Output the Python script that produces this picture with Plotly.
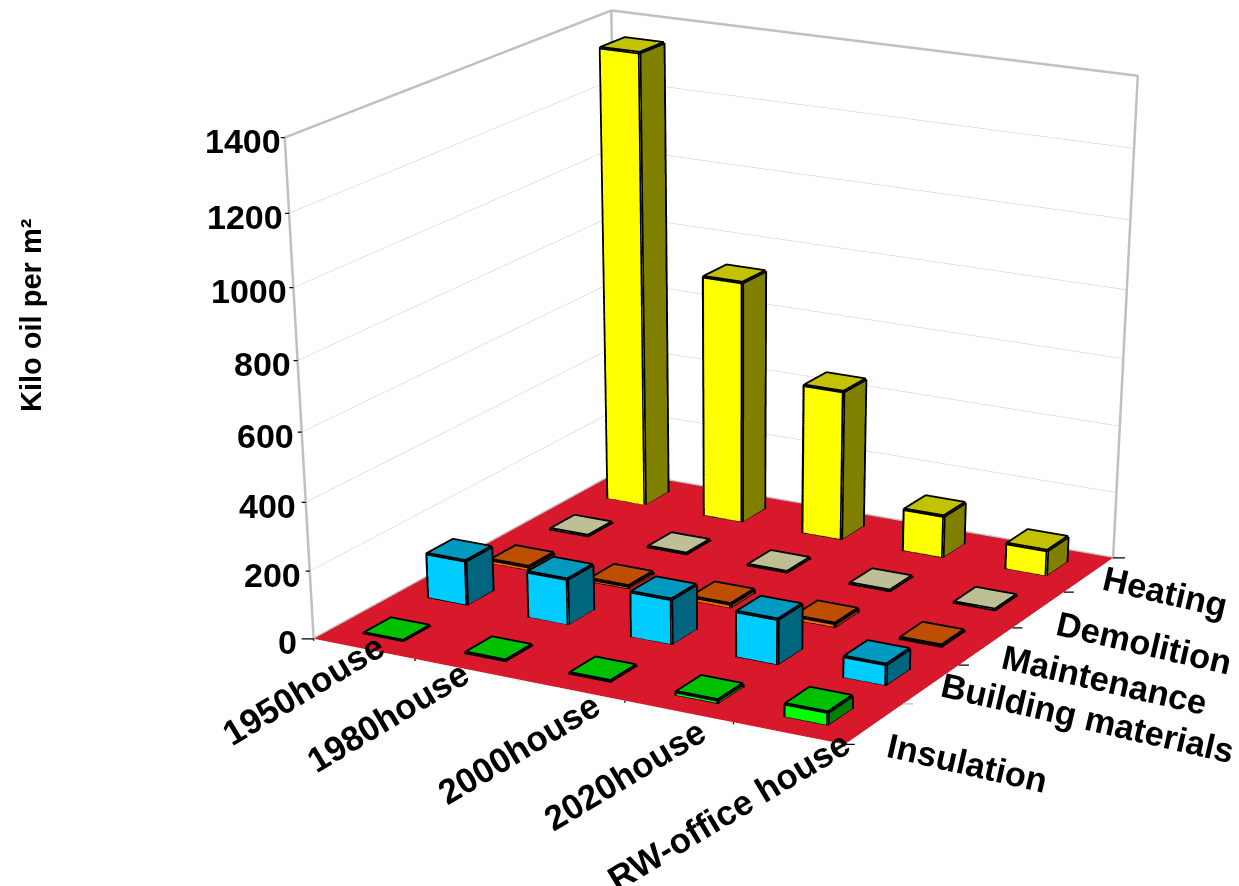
import plotly.graph_objects as go

categories = ["1950house", "1980house", "2000house", "2020house", "RW-office house"]
series = ["Insulation", "Building materials", "Maintenance", "Demolition", "Heating"]
insulation = [3, 5, 5, 11, 38]
building_materials = [134, 136, 134, 134, 62]
maintenance = [12, 10, 13, 13, 7]
demolition = [5, 5, 5, 5, 5]
heating = [1352, 730, 453, 128, 78]
z_ticks = [0, 200, 400, 600, 800, 1000, 1200, 1400]
values = [insulation, building_materials, maintenance, demolition, heating]

# The canvas is larger than the visible page: plotly's field of view is fixed,
# so a tall scene gives the long-lens perspective this chart needs.
WIDTH, HEIGHT = 1470, 3500
EYE = dict(x=2.82630, y=-5.11498, z=1.68245)
CENTER = dict(x=0.52559, y=-0.92189, z=-1.57743)
UP = dict(x=-0.00674, y=0.00155, z=1)
ASPECT = dict(x=0.82536, y=0.83867, z=0.66355)

BAR_X, BAR_Y = 0.385, 0.41
FLOOR = "#d7192b"
WALL = "#c0c0c0"
GRID = "#c8c8c8"
# front, top and side face of each series' bars
FACES = [("#00ff00", "#00c000", "#008000"), ("#00ccff", "#0099c0", "#006680"),
         ("#ff6a00", "#bf4f00", "#803500"), ("#ffffc8", "#bfbf96", "#808064"),
         ("#ffff00", "#c2c200", "#808000")]
FLAT = dict(ambient=1, diffuse=0, specular=0, fresnel=0, roughness=1)

fig = go.Figure()
fig.add_trace(go.Mesh3d(x=[0, 5, 5, 0], y=[0, 0, 5, 5], z=[0, 0, 0, 0], i=[0, 0], j=[1, 2], k=[2, 3],
                        color=FLOOR, lighting=FLAT, flatshading=True, hoverinfo="skip"))

for s, row in enumerate(values):
    front, top, side = FACES[s]
    vx, vy, vz, fi, fj, fk, fc = [], [], [], [], [], [], []
    ex, ey, ez = [], [], []
    for c, v in enumerate(row):
        x0, x1 = c + .5 - BAR_X / 2, c + .5 + BAR_X / 2
        y0, y1 = s + .5 - BAR_Y / 2, s + .5 + BAR_Y / 2
        n = len(vx)
        vx += [x0, x1, x1, x0, x0, x1, x1, x0]
        vy += [y0, y0, y1, y1, y0, y0, y1, y1]
        vz += [0, 0, 0, 0, v, v, v, v]
        for tri, col in [((0, 1, 5), front), ((0, 5, 4), front), ((1, 2, 6), side),
                         ((1, 6, 5), side), ((4, 5, 6), top), ((4, 6, 7), top)]:
            fi.append(n + tri[0]); fj.append(n + tri[1]); fk.append(n + tri[2]); fc.append(col)
        # outline of the visible edges, base edges raised a hair above the floor
        base = 1.0
        outline = [(x0, y0, v), (x1, y0, v), (x1, y1, v), (x0, y1, v), (x0, y0, v), (x0, y0, base),
                   (x1, y0, base), (x1, y1, base), (x1, y1, v)]
        for path in (outline, [(x1, y0, base), (x1, y0, v)]):
            for q in path:
                ex.append(q[0]); ey.append(q[1]); ez.append(q[2])
            ex.append(None); ey.append(None); ez.append(None)
    fig.add_trace(go.Mesh3d(x=vx, y=vy, z=vz, i=fi, j=fj, k=fk, facecolor=fc, lighting=FLAT,
                            flatshading=True, hoverinfo="skip"))
    fig.add_trace(go.Scatter3d(x=ex, y=ey, z=ez, mode="lines", line=dict(color="black", width=7),
                               hoverinfo="skip"))

zmax = z_ticks[-1]
wall_line = dict(mode="lines", line=dict(color=WALL, width=5), hoverinfo="skip")
fig.add_trace(go.Scatter3d(x=[0, 0, 0, 5, 5, 5, 0], y=[0, 0, 5, 5, 5, 5, 5], z=[0, zmax, zmax, zmax, 0, 0, 0], **wall_line))
fig.add_trace(go.Scatter3d(x=[0, 0], y=[5, 5], z=[0, zmax], **wall_line))
fig.add_trace(go.Scatter3d(x=[0, 0], y=[0, 5], z=[0, 0], **wall_line))

ann = []


def label(text, x, y, z, dx, dy, angle=0, size=34.5):
    ann.append(dict(x=x, y=y, z=z, text="<b>%s</b>" % text, showarrow=False, xshift=dx, yshift=-dy,
                    textangle=angle, xanchor="center", yanchor="middle",
                    font=dict(family="Liberation Sans", size=size, color="black")))


def tick(x, y, z, ax, ay, color="black"):
    ann.append(dict(x=x, y=y, z=z, text=" ", showarrow=True, arrowhead=0, arrowwidth=1.3,
                    arrowcolor=color, ax=ax, ay=ay, standoff=0))


# label gap from the wall, per z tick
z_gap = [17, 9, 10, 8, 7, 7, 6, 4]
for v, gap in zip(z_ticks, z_gap):
    label(str(v), 0, 0, v, -gap - 9.45 * len(str(v)), 3.5, size=34)
    tick(0, 0, v, -7 if v else -15, 0)
tick(0, 0, 0, 0, 12)

cat_shift = [(-61, 41), (-79, 47), (-53, 58), (-54, 63), (-60, 77)]
for c, name in enumerate(categories):
    label(name, c + .5, 0, 0, cat_shift[c][0], cat_shift[c][1], -31, size=35)
    tick(c + 1, 0, 0, 0, 12, WALL if c == 1 else "black")

ser_shift = [(93, 39), (156, 34), (119, 34), (106, 33), (77, 17)]
for s, name in enumerate(series):
    label(name, 5, s + .5, 0, ser_shift[s][0], ser_shift[s][1], 13)
    tick(5, s, 0, 13, 0, WALL if s == 1 else "black")
tick(5, 5, 0, 15, 0)

bare = dict(title=dict(text=""), showticklabels=False, ticks="", showgrid=False, zeroline=False,
            showline=False, showbackground=False, showspikes=False)
fig.update_layout(
    width=WIDTH, height=HEIGHT, margin=dict(l=0, r=0, t=0, b=0), showlegend=False, paper_bgcolor="white",
    annotations=[dict(text="<b>Kilo oil per m²</b>", textangle=-90, x=31 / WIDTH, y=1 - 315 / HEIGHT,
                      xref="paper", yref="paper", showarrow=False, xanchor="center", yanchor="middle",
                      font=dict(family="Liberation Sans", size=29, color="black"))],
    scene=dict(
        xaxis=dict(range=[0, 5], **bare), yaxis=dict(range=[0, 5], **bare),
        zaxis=dict(**{**bare, "showgrid": True}, range=[0, zmax], dtick=200, gridcolor=GRID, gridwidth=1),
        aspectmode="manual", aspectratio=ASPECT,
        camera=dict(eye=EYE, center=CENTER, up=UP, projection=dict(type="perspective")),
        annotations=ann))
fig.write_html("out.html", post_script="document.documentElement.style.overflow='hidden';document.body.style.overflow='hidden';")
